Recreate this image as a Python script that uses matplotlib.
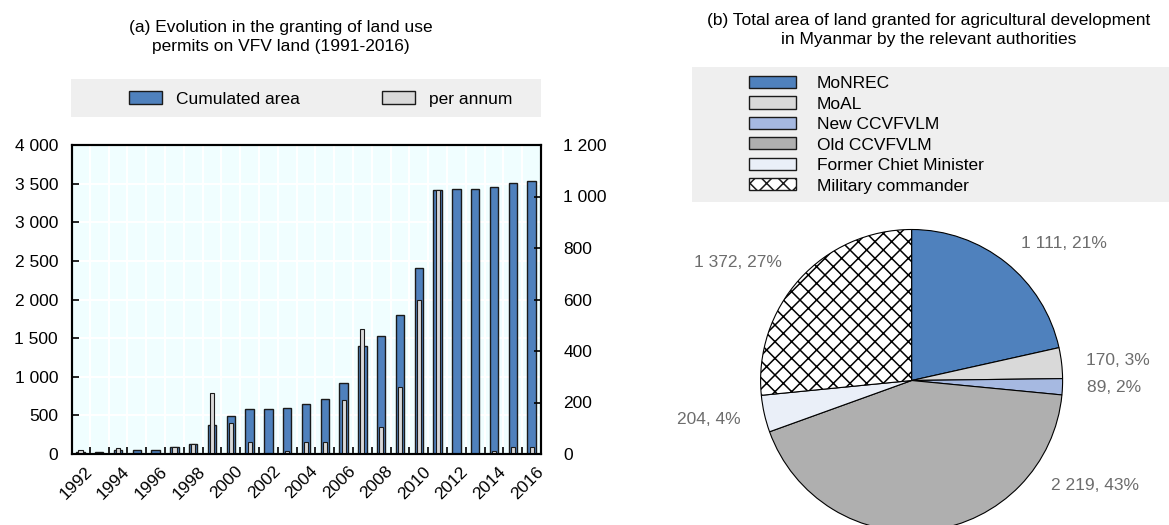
import numpy as np
import matplotlib
matplotlib.use('Agg')
import matplotlib.pyplot as plt
import matplotlib.transforms as mtransforms
from matplotlib.patches import Rectangle, Patch
from matplotlib.ticker import FuncFormatter, MultipleLocator

plt.rcParams['font.family'] = ['Liberation Sans', 'DejaVu Sans']
plt.rcParams['font.size'] = 12.5
plt.rcParams['hatch.linewidth'] = 1.1

# (a) land use permits on VFV land
years = list(range(1992, 2017))
cumulated = [20, 20, 52, 52, 52, 90, 125, 370, 490, 578, 578, 595, 647, 716, 915,
             1398, 1527, 1799, 2404, 3417, 3426, 3426, 3452, 3504, 3530]
per_annum = [15, 1, 23, 3, 3, 27, 38, 237, 119, 48, 2, 13, 48, 48, 210,
             484, 104, 259, 598, 1025, 0, 0, 13, 28, 28]

# (b) land granted by authority
authorities = ['MoNREC', 'MoAL', 'New CCVFVLM', 'Old CCVFVLM',
               'Former Chiet Minister', 'Military commander']
areas = [1111, 170, 89, 2219, 204, 1372]
shares = [21, 3, 2, 43, 4, 27]
pie_colors = ['#4f81bd', '#d9d9d9', '#a6b9e1', '#afafaf', '#eaeff8', 'white']

blue = '#4f81bd'
W, H = 1169, 525


def fbox(l, t, r, b):
    # pixel box -> figure fraction
    return [l / W, 1 - b / H, (r - l) / W, (b - t) / H]


def space_fmt(v, pos=None):
    return f'{int(v):,}'.replace(',', ' ')


fig = plt.figure(figsize=(W / 100, H / 100), dpi=100)

# legend backgrounds
fig.add_artist(Rectangle((71 / W, 1 - 117 / H), (541 - 71) / W, (117 - 79) / H,
                         transform=fig.transFigure, facecolor='#efefef',
                         edgecolor='none', zorder=0))
fig.add_artist(Rectangle((692 / W, 1 - 202 / H), (W - 692) / W, (202 - 67) / H,
                         transform=fig.transFigure, facecolor='#efefef',
                         edgecolor='none', zorder=0))

# ---- left panel ----
ax = fig.add_axes(fbox(72, 145, 541, 454))
x = np.arange(len(years))
ax.bar(x, cumulated, width=0.45, color=blue, edgecolor='#1a1a1a', linewidth=1)
ax.set_xlim(-0.45, len(years) - 0.5)
ax.set_ylim(0, 4000)
ax.set_facecolor('#f0feff')
ax.yaxis.set_major_locator(MultipleLocator(500))
ax.yaxis.set_major_formatter(FuncFormatter(space_fmt))
ax.set_xticks(x[::2])
ax.set_xticklabels([str(y) for y in years[::2]])
ax.set_xticks(x + 0.5, minor=True)
ax.tick_params(axis='x', which='major', length=0, pad=7)
ax.tick_params(axis='x', which='minor', direction='in', length=5, width=1.2)
ax.tick_params(axis='y', direction='in', length=5, width=1.2, pad=10)
ax.grid(True, which='minor', axis='x', color='white', linewidth=1.5)
ax.grid(True, which='major', axis='y', color='white', linewidth=1.5)
ax.set_axisbelow(True)
for s in ax.spines.values():
    s.set_linewidth(1.5)
offset = mtransforms.ScaledTranslation(4 / 100, 0, fig.dpi_scale_trans)
for lbl in ax.get_xticklabels():
    lbl.set_rotation(45)
    lbl.set_ha('right')
    lbl.set_va('top')
    lbl.set_rotation_mode('anchor')
    lbl.set_transform(lbl.get_transform() + offset)

ax2 = ax.twinx()
ax2.bar(x, per_annum, width=0.22, color='#d9d9d9', edgecolor='#1a1a1a', linewidth=0.8)
ax2.set_ylim(0, 1200)
ax2.yaxis.set_major_locator(MultipleLocator(200))
ax2.yaxis.set_major_formatter(FuncFormatter(space_fmt))
ax2.tick_params(axis='y', direction='in', length=5, width=1.2, pad=16)
for s in ax2.spines.values():
    s.set_linewidth(1.5)

fig.text(281 / W, 1 - 37 / H,
         '(a) Evolution in the granting of land use\npermits on VFV land (1991-2016)',
         ha='center', va='center', linespacing=1.4)

leg_a = [Patch(facecolor=blue, edgecolor='#1a1a1a', linewidth=1, label='Cumulated area'),
         Patch(facecolor='#d9d9d9', edgecolor='#1a1a1a', linewidth=1, label='per annum')]
fig.legend(handles=leg_a, loc='center left', bbox_to_anchor=(129 / W, 1 - 99 / H),
           ncol=2, frameon=False, borderpad=0, borderaxespad=0, handlelength=1.9,
           handleheight=0.8, handletextpad=0.8, columnspacing=4.75)

# ---- right panel ----
cx, cy, r = 911.6, 380.5, 151
axp = fig.add_axes(fbox(cx - r, cy - r, cx + r, cy + r))
labels = [f'{space_fmt(v)}, {p}%' for v, p in zip(areas, shares)]
wedges, texts = axp.pie(areas, colors=pie_colors, startangle=90, counterclock=False,
                        labels=labels, labeldistance=1.16,
                        wedgeprops=dict(edgecolor='black', linewidth=0.8),
                        textprops=dict(color='#6d6d6d', fontsize=12.5))
wedges[5].set_hatch('xx')
for w in wedges:
    w.set_clip_on(False)
axp.set_xlim(-1, 1)
axp.set_ylim(-1, 1)
axp.axis('off')
ang = np.deg2rad(-37)
texts[3].set_position((1.16 * np.cos(ang), 1.16 * np.sin(ang)))
texts[3].set_ha('left')

fig.text(929 / W, 1 - 30 / H,
         '(b) Total area of land granted for agricultural development\nin Myanmar by the relevant authorities',
         ha='center', va='center', linespacing=1.35)

leg_b = [Patch(facecolor=c, edgecolor='#1a1a1a', linewidth=1, label=a,
               hatch='xx' if i == 5 else None)
         for i, (a, c) in enumerate(zip(authorities, pie_colors))]
fig.legend(handles=leg_b, loc='upper left', bbox_to_anchor=(749 / W, 1 - 76 / H),
           ncol=1, frameon=False, borderpad=0, borderaxespad=0, handlelength=2.7,
           handleheight=0.69, handletextpad=1.2, labelspacing=0.31)

fig.savefig('out.png', dpi=100)
